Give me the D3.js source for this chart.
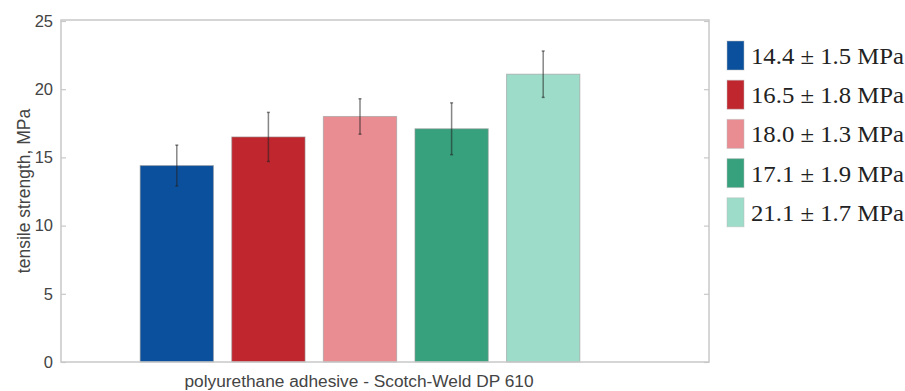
<!DOCTYPE html>
<html>
<head>
<meta charset="utf-8">
<script src="https://cdn.jsdelivr.net/npm/d3@7"></script>
<style>
  body { margin: 0; background: #fff; }
  svg { display: block; }
</style>
</head>
<body>
<svg width="905" height="391"></svg>
<script>
// Chart data
const samples = ["S1", "S2", "S3", "S4", "S5"];
const means = [14.4, 16.5, 18.0, 17.1, 21.1];
const errors = [1.5, 1.8, 1.3, 1.9, 1.7];
const legendLabels = ["14.4 ± 1.5 MPa", "16.5 ± 1.8 MPa", "18.0 ± 1.3 MPa", "17.1 ± 1.9 MPa", "21.1 ± 1.7 MPa"];
const yTicks = [0, 5, 10, 15, 20, 25];
const colors = ["#0b509c", "#c0262e", "#e98d92", "#37a07c", "#9ddcc8"];

const svg = d3.select("svg");
const plot = { left: 61, right: 709, top: 21, bottom: 362 };

const x = d3.scaleBand()
    .domain(samples)
    .range([131, 589])
    .paddingInner(0.2)
    .paddingOuter(0.1);

const y = d3.scaleLinear()
    .domain([0, 25])
    .range([plot.bottom, plot.top]);

// Bars
svg.append("g")
    .selectAll("rect")
    .data(samples)
    .join("rect")
    .attr("x", d => x(d))
    .attr("y", (d, i) => y(means[i]))
    .attr("width", x.bandwidth())
    .attr("height", (d, i) => y(0) - y(means[i]))
    .attr("fill", (d, i) => colors[i])
    .attr("stroke", "#999")
    .attr("stroke-opacity", 0.6)
    .attr("stroke-width", 1);

// Error bars
const eb = svg.append("g")
    .attr("stroke", "#222")
    .attr("stroke-opacity", 0.55)
    .attr("stroke-width", 1.5);

samples.forEach((d, i) => {
    const cx = x(d) + x.bandwidth() / 2;
    eb.append("line")
        .attr("x1", cx).attr("x2", cx)
        .attr("y1", y(means[i] - errors[i]))
        .attr("y2", y(means[i] + errors[i]));
    [means[i] - errors[i], means[i] + errors[i]].forEach(v => {
        eb.append("line")
            .attr("x1", cx - 1.5).attr("x2", cx + 1.5)
            .attr("y1", y(v)).attr("y2", y(v));
    });
});

// Axes box
const axisColor = "#c8c8c8";
svg.append("rect")
    .attr("x", plot.left)
    .attr("y", plot.top - 1)
    .attr("width", plot.right - plot.left)
    .attr("height", plot.bottom - plot.top + 1)
    .attr("fill", "none")
    .attr("stroke", axisColor)
    .attr("stroke-width", 1.5);

// Left axis (inward ticks)
const gy = svg.append("g")
    .attr("transform", `translate(${plot.left},0)`)
    .call(d3.axisLeft(y).tickValues(yTicks).tickSizeInner(-5).tickSizeOuter(0).tickPadding(8));
gy.select(".domain").remove();
gy.selectAll(".tick line").attr("stroke", axisColor).attr("stroke-width", 1.2);
gy.selectAll(".tick text")
    .attr("fill", "#444")
    .style("font-family", "Liberation Sans, Arial, sans-serif")
    .style("font-size", "16.5px");

// Right axis (mirrored ticks)
const gyr = svg.append("g")
    .attr("transform", `translate(${plot.right},0)`)
    .call(d3.axisRight(y).tickValues(yTicks).tickSizeInner(-5).tickSizeOuter(0).tickFormat(""));
gyr.select(".domain").remove();
gyr.selectAll(".tick line").attr("stroke", axisColor).attr("stroke-width", 1.2);

// Axis labels
svg.append("text")
    .attr("transform", `translate(30,191) rotate(-90)`)
    .attr("text-anchor", "middle")
    .attr("fill", "#444")
    .style("font-family", "Liberation Sans, Arial, sans-serif")
    .style("font-size", "17.5px")
    .text("tensile strength, MPa");

svg.append("text")
    .attr("x", 359)
    .attr("y", 387)
    .attr("text-anchor", "middle")
    .attr("fill", "#444")
    .style("font-family", "Liberation Sans, Arial, sans-serif")
    .style("font-size", "17.3px")
    .text("polyurethane adhesive - Scotch-Weld DP 610");

// Legend
const legend = svg.append("g").attr("transform", "translate(727,41)");
const rows = legend.selectAll("g")
    .data(legendLabels)
    .join("g")
    .attr("transform", (d, i) => `translate(0,${i * 39.2})`);

rows.append("rect")
    .attr("width", 17)
    .attr("height", 29)
    .attr("fill", (d, i) => colors[i])
    .attr("stroke", "#bbb")
    .attr("stroke-opacity", 0.5);

rows.append("text")
    .attr("x", 24)
    .attr("y", 23)
    .attr("fill", "#222")
    .attr("textLength", 153)
    .attr("lengthAdjust", "spacingAndGlyphs")
    .style("font-family", "Liberation Serif, Times New Roman, serif")
    .style("font-size", "23px")
    .text(d => d);
</script>
</body>
</html>
